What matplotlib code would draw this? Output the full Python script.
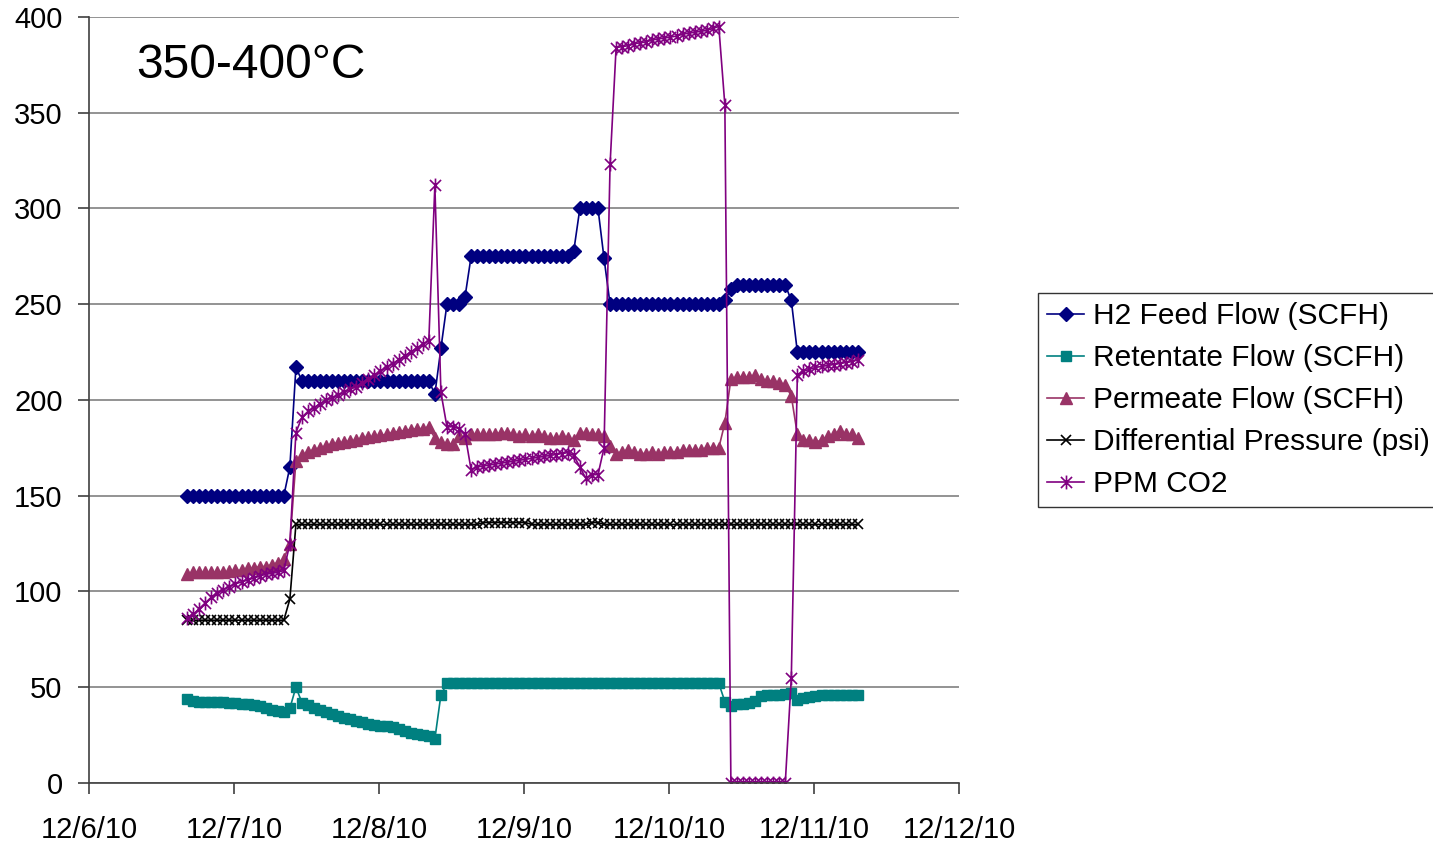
import matplotlib
matplotlib.use("Agg")
import matplotlib.pyplot as plt
import matplotlib.dates as mdates
from matplotlib.path import Path
import pandas as pd

plt.rcParams['font.family'] = ['Liberation Sans', 'DejaVu Sans']

# hourly readings, 12/6/10 16:15 -> 12/11/10 07:15
times = pd.date_range('2010-12-06 16:15', periods=112, freq='h')

h2_feed = ([150] * 17 + [165, 217] + [210] * 22 + [203, 227] + [250] * 3 + [254]
           + [275] * 17 + [278] + [300] * 4 + [274] + [250] * 19 + [252, 258]
           + [260] * 9 + [252] + [225] * 11)

retentate = ([44, 43, 42.5, 42.5, 42.5, 42.5, 42.5, 42, 42, 41.5, 41, 40.5, 40, 39, 38, 37.5, 37,
              39, 50, 42, 40.5, 39, 38, 37, 36, 35, 34, 33.5, 32.5, 32, 31, 30.5, 30, 29.5, 29,
              28, 27, 26, 25.5, 25, 24.5, 23, 46]
             + [52] * 46
             + [42.5, 40, 41, 41.5, 42, 43, 45.5, 46, 46, 46, 46.5, 47, 43.5, 44.5, 45, 45.5]
             + [46] * 7)

permeate = [109, 110, 110, 110, 110, 110, 110, 110.5, 111, 111, 112, 112, 113, 113, 114, 115, 117,
            125, 168, 171, 173, 174, 175, 176, 177, 177.5, 178, 178.5, 179, 180, 180.5, 181, 181.5,
            182, 183, 183.5, 184, 184.5, 185, 185, 186,
            180, 178, 177, 177, 181, 180, 182, 182, 182, 182, 182, 183, 183, 182, 181, 182, 181,
            182, 181, 180, 180, 181, 180, 179, 183, 183, 182, 182, 181,
            176, 172, 173, 174, 173, 172, 172, 173, 172, 173, 173, 173, 174, 174, 174, 174, 175,
            175, 175,
            188, 211, 212, 212, 212, 213, 211, 210, 210, 209, 208, 202, 182, 179, 179, 178, 179,
            181, 182, 184, 182, 182, 180]

diff_pressure = ([85] * 17 + [96] + [135] * 31 + [136] * 8 + [135] * 10 + [136] * 2
                 + [135] * 43)

ppm_co2 = [86, 88, 91, 94, 97, 99, 101, 102.5, 104, 105, 106, 107, 108, 109, 109.5, 110, 111,
           125, 183, 191, 194, 196, 198, 200, 201, 202.5, 204, 205.5, 207, 209, 211, 213, 215,
           217, 219, 221, 223, 225, 227, 229, 231,
           312, 204, 186, 186, 185, 182, 163.5, 165, 165.5, 166, 166.5, 167, 167.5, 168, 168.5,
           169, 169.5, 170, 170.5, 171, 171.5, 172, 172.5, 171, 165, 159, 161, 161, 175, 323,
           384, 384.5, 385, 386, 386.5, 387, 388, 388.5, 389, 389.5, 390, 391, 391.5, 392, 392.5,
           393, 394, 395, 354] + [0] * 10 + [55, 213, 215, 216, 217, 217.5, 218, 218.5, 219,
                                            219.5, 220, 221]

labels = ['H2 Feed Flow (SCFH)', 'Retentate Flow (SCFH)', 'Permeate Flow (SCFH)',
          'Differential Pressure (psi)', 'PPM CO2']


def day_label(v, pos):
    d = mdates.num2date(v)
    return '{}/{}/{}'.format(d.month, d.day, d.strftime('%y'))


# Excel style star: x with a vertical bar
star = Path([(-1, -1), (1, 1), (-1, 1), (1, -1), (0, -1.25), (0, 1.25)],
            [Path.MOVETO, Path.LINETO, Path.MOVETO, Path.LINETO, Path.MOVETO, Path.LINETO])

fig = plt.figure(figsize=(14.33, 8.43), dpi=100)
ax = fig.add_axes([0.0621, 0.0712, 0.6071, 0.9087])

ax.plot(times, h2_feed, color='#000080', lw=1.2, marker='D', ms=7, label=labels[0])
ax.plot(times, retentate, color='#008080', lw=1.2, marker='s', ms=7, label=labels[1])
ax.plot(times, permeate, color='#993366', lw=1.2, marker='^', ms=8.5, label=labels[2])
ax.plot(times, diff_pressure, color='black', lw=1.2, marker='x', ms=7.5, mew=1.2, label=labels[3])
ax.plot(times, ppm_co2, color='#800080', lw=1.2, marker=star, ms=10, mew=1.2, label=labels[4])

ax.set_ylim(0, 400)
ax.set_yticks(range(0, 401, 50))
ax.set_xlim(pd.Timestamp('2010-12-06'), pd.Timestamp('2010-12-12'))
ax.xaxis.set_major_locator(mdates.DayLocator())
ax.xaxis.set_major_formatter(plt.FuncFormatter(day_label))

ax.grid(axis='y', color='#808080', lw=1.2)
ax.set_axisbelow(True)
for side in ['top', 'right']:
    ax.spines[side].set_visible(False)
for side in ['left', 'bottom']:
    ax.spines[side].set_color('#404040')
    ax.spines[side].set_linewidth(1.2)
ax.tick_params(axis='both', direction='out', length=8, width=1.2, color='#404040',
               labelsize=21)
ax.tick_params(axis='x', pad=16)
ax.tick_params(axis='y', pad=11)

ax.text(0.054, 0.936, '350-400°C', transform=ax.transAxes, fontsize=34.5, va='center')

leg = fig.legend(loc='upper left', bbox_to_anchor=(0.7244, 0.6524), fontsize=21.5,
                 frameon=True, fancybox=False, edgecolor='black', handlelength=1.25,
                 handletextpad=0.28, labelspacing=0.47, borderpad=0.3, borderaxespad=0)
leg.get_frame().set_linewidth(1.0)

fig.savefig('out.png', dpi=100)
